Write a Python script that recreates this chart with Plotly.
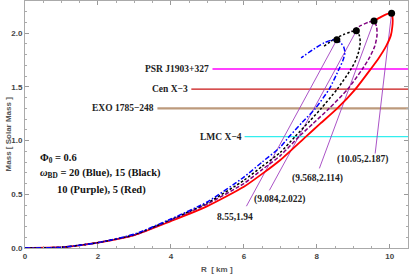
import plotly.graph_objects as go

# ---------------- data ----------------
blue_R = [0, 1, 2, 3, 4, 5, 6, 6.5, 7.0, 7.25, 7.6, 7.96, 8.34, 8.61, 8.72, 8.77, 8.74, 8.66, 8.55, 8.4, 8.2, 7.95, 7.57]
blue_M = [0, 0.007, 0.05, 0.13, 0.27, 0.43, 0.66, 0.80, 0.94, 1.04, 1.17, 1.30, 1.48, 1.667, 1.75, 1.82, 1.87, 1.91, 1.94, 1.935, 1.91, 1.86, 1.77]

black_R = [0, 1, 2, 3, 4, 5, 6, 6.5, 7.0, 7.41, 7.8, 8.12, 8.56, 8.94, 9.07, 9.15, 9.19, 9.17, 9.084, 8.95, 8.75, 8.5, 8.2]
black_M = [0, 0.007, 0.05, 0.125, 0.265, 0.42, 0.63, 0.76, 0.89, 1.04, 1.18, 1.30, 1.48, 1.667, 1.75, 1.83, 1.91, 1.975, 2.022, 2.015, 1.99, 1.95, 1.88]

purple_R = [0, 1, 2, 3, 4, 5, 6, 6.5, 7.0, 7.52, 7.9, 8.34, 8.85, 9.25, 9.44, 9.59, 9.65, 9.64, 9.568, 9.4, 9.2, 8.95]
purple_M = [0, 0.007, 0.05, 0.12, 0.26, 0.41, 0.60, 0.73, 0.86, 1.04, 1.16, 1.30, 1.48, 1.667, 1.77, 1.88, 1.98, 2.06, 2.114, 2.10, 2.07, 2.02]

red_R = [0, 1, 2, 3, 4, 5, 6, 6.5, 7.0, 7.71, 8.1, 8.56, 9.06, 9.48, 9.7, 9.9, 10.03, 10.07, 10.08, 10.05, 9.9, 9.75, 9.6]
red_M = [0, 0.007, 0.05, 0.12, 0.25, 0.39, 0.57, 0.69, 0.82, 1.04, 1.16, 1.30, 1.48, 1.667, 1.77, 1.88, 1.98, 2.06, 2.13, 2.187, 2.175, 2.15, 2.12]

max_R = [8.55, 9.084, 9.568, 10.05]
max_M = [1.94, 2.022, 2.114, 2.187]
max_labels = ["8.55,1.94", "(9.084,2.022)", "(9.568,2.114)", "(10.05,2.187)"]
label_R = [5.76, 6.97, 8.01, 9.24]
label_M = [0.287, 0.454, 0.648, 0.824]
leader_end_R = [6.07, 6.70, 8.07, 9.60]
leader_end_M = [0.389, 0.537, 0.741, 0.88]

star_names = ["PSR J1903+327", "Cen X\u22123", "EXO 1785\u2212248", "LMC X\u22124"]
star_mass = [1.667, 1.48, 1.30, 1.037]
star_start_R = [5.14, 4.56, 3.63, 6.02]
star_colors = ["#ff00ff", "#c81414", "#bc9a7c", "#33eeee"]
star_widths = [1.3, 1.3, 2.2, 1.3]

x_ticks = [0, 2, 4, 6, 8, 10]
y_ticks = [0.0, 0.5, 1.0, 1.5, 2.0]
y_tick_text = ["0.0", "0.5", "1.0", "1.5", "2.0"]

X_MAX = 10.5
Y_MAX = 2.3

fig = go.Figure()

# horizontal observational lines
for name, m, r0, c, w in zip(star_names, star_mass, star_start_R, star_colors, star_widths):
    fig.add_trace(go.Scatter(x=[r0, X_MAX], y=[m, m], mode="lines",
                             line=dict(color=c, width=w), hoverinfo="skip"))

# leader lines
for r, m, re, me in zip(max_R, max_M, leader_end_R, leader_end_M):
    fig.add_trace(go.Scatter(x=[r, re], y=[m, me], mode="lines",
                             line=dict(color="#a040c0", width=0.9), hoverinfo="skip"))

# M-R curves
curves = [
    (red_R, red_M, "#ff0000", "solid", 1.8),
    (purple_R, purple_M, "#800080", "4px,2px", 1.5),
    (black_R, black_M, "#000000", "2.5px,2px", 1.5),
    (blue_R, blue_M, "#0000ff", "5px,2px,1.5px,2px", 1.5),
]
for R, M, c, d, w in curves:
    fig.add_trace(go.Scatter(x=R, y=M, mode="lines",
                             line=dict(color=c, dash=d, width=w, shape="spline", smoothing=0.6),
                             hoverinfo="skip"))

# maximum-mass points
fig.add_trace(go.Scatter(x=max_R, y=max_M, mode="markers",
                         marker=dict(color="black", size=7), hoverinfo="skip"))

serif = "Liberation Serif"

# star labels
for name, m, r0 in zip(star_names, star_mass, star_start_R):
    fig.add_annotation(x=r0, y=m, text=name, showarrow=False, xanchor="right",
                       yanchor="middle", xshift=-1,
                       font=dict(family=serif, size=9.5, color="#222", weight="bold"))

# max point labels
for t, r, m in zip(max_labels, label_R, label_M):
    fig.add_annotation(x=r, y=m, text=t, showarrow=False, xanchor="center",
                       yanchor="middle",
                       font=dict(family=serif, size=9.5, color="#222", weight="bold"))

# legend-ish text
fig.add_annotation(xref="paper", yref="paper", x=(38 - 25) / 384, y=(248 - 157.7) / 248,
                   text="\u03a6<sub>0</sub> = 0.6", showarrow=False, xanchor="left", yanchor="middle",
                   font=dict(family=serif, size=10.5, color="#111", weight="bold"))
fig.add_annotation(xref="paper", yref="paper", x=(38 - 25) / 384, y=(248 - 173) / 248,
                   text="<i>\u03c9</i><sub>BD</sub> = 20 (Blue), 15 (Black)", showarrow=False,
                   xanchor="left", yanchor="middle",
                   font=dict(family=serif, size=10.5, color="#111", weight="bold"))
fig.add_annotation(xref="paper", yref="paper", x=(55 - 25) / 384, y=(248 - 189.3) / 248,
                   text="10 (Purple), 5 (Red)", showarrow=False, xanchor="left", yanchor="middle",
                   font=dict(family=serif, size=10.5, color="#111", weight="bold"))

# axis titles
fig.add_annotation(xref="paper", yref="paper", x=0.5, y=-15 / 248, text="R  [ km ]",
                   showarrow=False, xanchor="center", yanchor="top",
                   font=dict(family="Liberation Sans", size=8, color="#555", weight="bold"))
fig.add_annotation(xref="paper", yref="paper", x=-17 / 384, y=0.46, text="Mass [ Solar Mass ]",
                   showarrow=False, xanchor="center", yanchor="middle", textangle=-90,
                   font=dict(family="Liberation Sans", size=8, color="#555", weight="bold"))

axis_common = dict(showgrid=False, zeroline=False, showline=True, linecolor="#aaaaaa",
                   linewidth=1, mirror="allticks", ticks="inside", ticklen=4,
                   tickcolor="#999999", automargin=False,
                   tickfont=dict(family="Liberation Sans", size=8, color="#444", weight="bold"))

fig.update_layout(
    width=409, height=275,
    margin=dict(l=25, r=1, t=1, b=27),
    paper_bgcolor="white", plot_bgcolor="white",
    showlegend=False,
    xaxis=dict(range=[0, X_MAX], tickvals=x_ticks, ticktext=[str(v) for v in x_ticks],
               minor=dict(dtick=0.5, ticks="inside", ticklen=2, tickcolor="#aaaaaa"),
               **axis_common),
    yaxis=dict(range=[0, Y_MAX], tickvals=y_ticks, ticktext=y_tick_text,
               minor=dict(dtick=0.1, ticks="inside", ticklen=2, tickcolor="#aaaaaa"),
               **axis_common),
)

fig.write_html("out.html",
               config={"displayModeBar": False},
               post_script="document.body.style.margin='0px';document.body.style.overflow='hidden';")
